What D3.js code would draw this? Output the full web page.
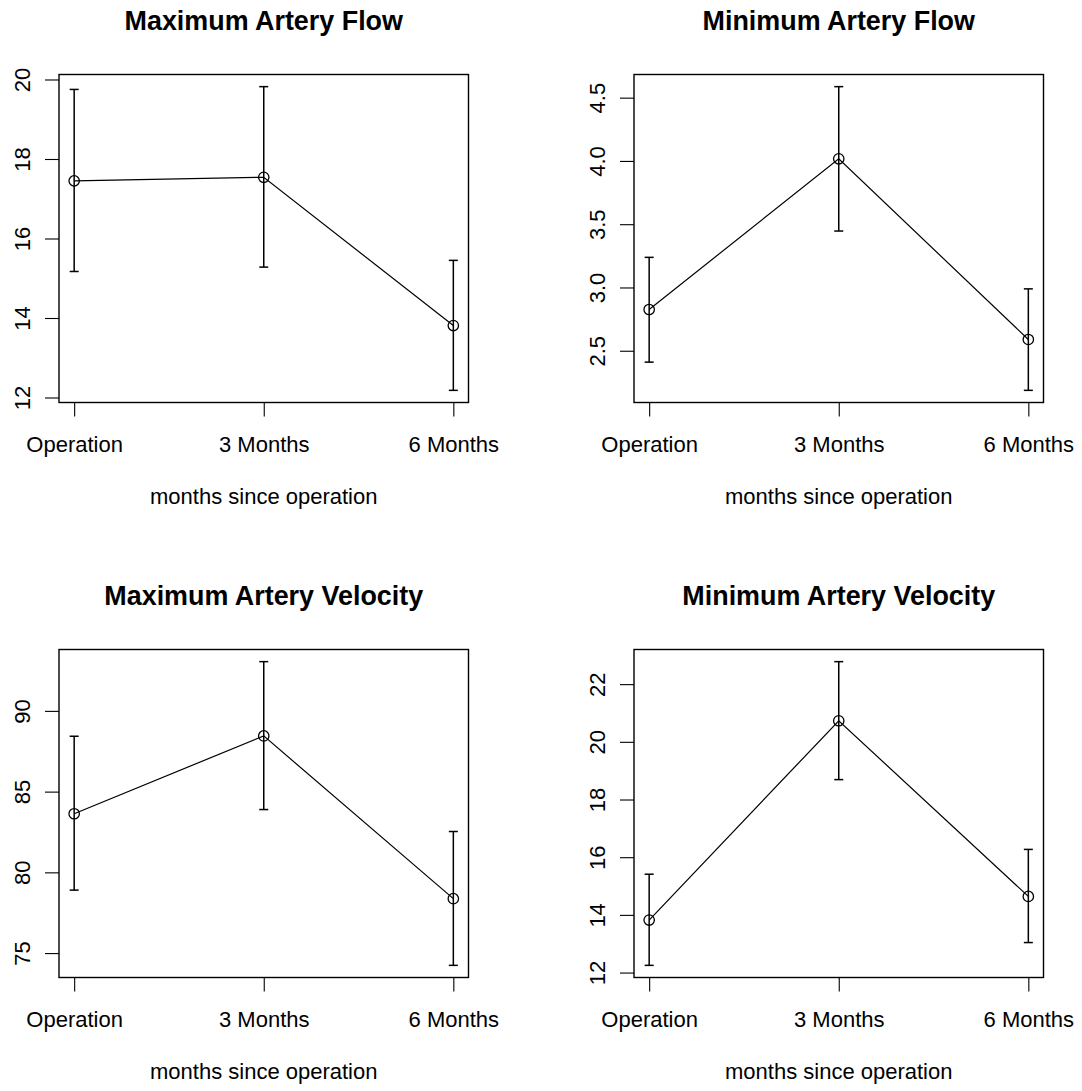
<!DOCTYPE html>
<html>
<head>
<meta charset="utf-8">
<script src="https://cdn.jsdelivr.net/npm/d3@7"></script>
<style>
  body { margin: 0; background: #fff; }
  svg { display: block; font-family: "Liberation Sans", Arial, sans-serif; }
</style>
</head>
<body>
<div id="chart"></div>
<script>
const categories = ["Operation", "3 Months", "6 Months"];
const xLabel = "months since operation";

// Maximum Artery Flow
const maxFlowMean  = [17.45, 17.54, 13.81];
const maxFlowLower = [15.17, 15.28, 12.18];
const maxFlowUpper = [19.75, 19.82, 15.45];
const maxFlowTicks = [12, 14, 16, 18, 20];

// Minimum Artery Flow
const minFlowMean  = [2.826, 4.017, 2.589];
const minFlowLower = [2.41, 3.446, 2.187];
const minFlowUpper = [3.238, 4.587, 2.989];
const minFlowTicks = [2.5, 3.0, 3.5, 4.0, 4.5];

// Maximum Artery Velocity
const maxVelMean  = [83.63, 88.45, 78.37];
const maxVelLower = [78.9, 83.89, 74.24];
const maxVelUpper = [88.43, 93.05, 82.53];
const maxVelTicks = [75, 80, 85, 90];

// Minimum Artery Velocity
const minVelMean  = [13.82, 20.73, 14.64];
const minVelLower = [12.25, 18.69, 13.04];
const minVelUpper = [15.41, 22.78, 16.27];
const minVelTicks = [12, 14, 16, 18, 20, 22];

const panels = [
  {title: "Maximum Artery Flow", mean: maxFlowMean, lower: maxFlowLower, upper: maxFlowUpper, ticks: maxFlowTicks, fmt: d3.format("d")},
  {title: "Minimum Artery Flow", mean: minFlowMean, lower: minFlowLower, upper: minFlowUpper, ticks: minFlowTicks, fmt: d3.format(".1f")},
  {title: "Maximum Artery Velocity", mean: maxVelMean, lower: maxVelLower, upper: maxVelUpper, ticks: maxVelTicks, fmt: d3.format("d")},
  {title: "Minimum Artery Velocity", mean: minVelMean, lower: minVelLower, upper: minVelUpper, ticks: minVelTicks, fmt: d3.format("d")}
];

const width = 1082, height = 1091;
const step = 575;
const box = {left: 59, top: 74.5, width: 409.5, height: 328};

const svg = d3.select("#chart").append("svg")
  .attr("width", width)
  .attr("height", height);

panels.forEach((p, i) => {
  const col = i % 2, row = Math.floor(i / 2);
  const g = svg.append("g")
    .attr("transform", `translate(${col * step + box.left},${row * step + box.top})`);

  const x = d3.scalePoint()
    .domain(categories)
    .range([0, box.width])
    .padding(0.08);

  const lo = d3.min(p.lower), hi = d3.max(p.upper);
  const ext = (hi - lo) * 0.04;
  const y = d3.scaleLinear()
    .domain([lo - ext, hi + ext])
    .range([box.height, 0]);

  // y axis
  const ya = g.append("g")
    .call(d3.axisLeft(y).tickValues(p.ticks).tickSize(14).tickFormat(p.fmt));
  ya.select(".domain").remove();
  ya.selectAll("line").attr("stroke", "#000").attr("stroke-width", 1.1);
  ya.selectAll("text")
    .attr("x", null).attr("dy", null)
    .attr("transform", "translate(-29,0) rotate(-90)")
    .attr("text-anchor", "middle")
    .attr("fill", "#000")
    .style("font-size", "22px");

  // x axis
  const xa = g.append("g")
    .attr("transform", `translate(0,${box.height})`)
    .call(d3.axisBottom(x).tickSize(14));
  xa.select(".domain").remove();
  xa.selectAll("line").attr("stroke", "#000").attr("stroke-width", 1.1);
  xa.selectAll("text")
    .attr("y", 49).attr("dy", null)
    .attr("fill", "#000")
    .style("font-size", "22px");

  // box
  g.append("rect")
    .attr("width", box.width)
    .attr("height", box.height)
    .attr("fill", "none")
    .attr("stroke", "#000")
    .attr("stroke-width", 1.4);

  // title and axis label
  g.append("text")
    .attr("x", box.width / 2)
    .attr("y", 30 - box.top)
    .attr("text-anchor", "middle")
    .style("font-size", "26.9px")
    .style("font-weight", "bold")
    .text(p.title);

  g.append("text")
    .attr("x", box.width / 2)
    .attr("y", box.height + 101.5)
    .attr("text-anchor", "middle")
    .style("font-size", "22px")
    .text(xLabel);

  const pts = categories.map((c, j) => ({c, m: p.mean[j], l: p.lower[j], u: p.upper[j]}));

  // connecting line
  g.append("path")
    .datum(pts)
    .attr("fill", "none")
    .attr("stroke", "#000")
    .attr("stroke-width", 1.2)
    .attr("d", d3.line().x(d => x(d.c)).y(d => y(d.m)));

  // error bars
  const eb = g.append("g").attr("stroke", "#000").attr("stroke-width", 1.5);
  eb.selectAll(".bar").data(pts).enter().append("line")
    .attr("x1", d => x(d.c)).attr("x2", d => x(d.c))
    .attr("y1", d => y(d.l)).attr("y2", d => y(d.u));
  eb.selectAll(".capU").data(pts).enter().append("line")
    .attr("x1", d => x(d.c) - 4.5).attr("x2", d => x(d.c) + 4.5)
    .attr("y1", d => y(d.u)).attr("y2", d => y(d.u));
  eb.selectAll(".capL").data(pts).enter().append("line")
    .attr("x1", d => x(d.c) - 4.5).attr("x2", d => x(d.c) + 4.5)
    .attr("y1", d => y(d.l)).attr("y2", d => y(d.l));

  // points
  g.selectAll(".pt").data(pts).enter().append("circle")
    .attr("cx", d => x(d.c))
    .attr("cy", d => y(d.m))
    .attr("r", 5.2)
    .attr("fill", "none")
    .attr("stroke", "#000")
    .attr("stroke-width", 1.3);
});
</script>
</body>
</html>
